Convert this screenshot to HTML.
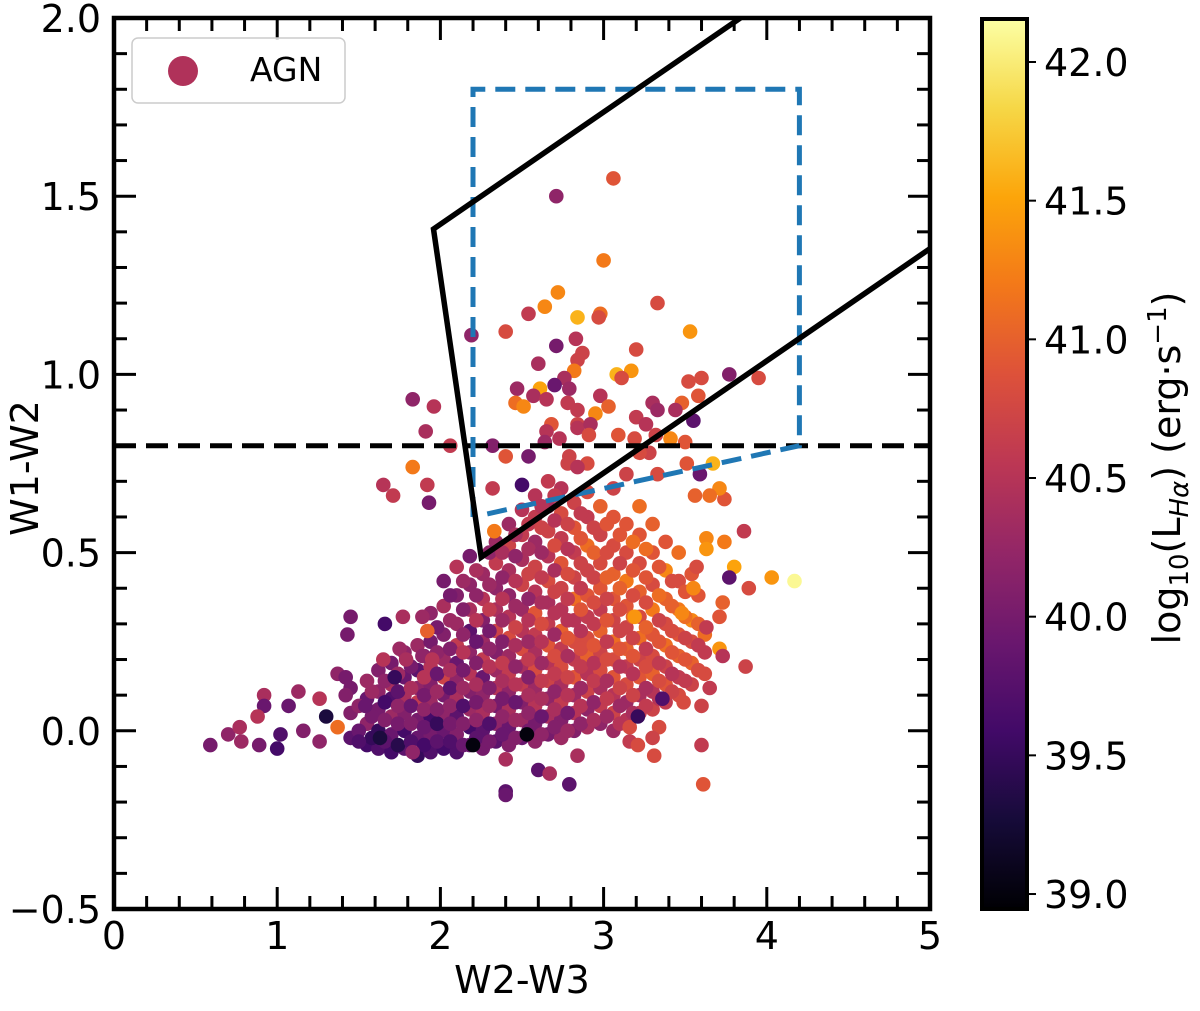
<!DOCTYPE html>
<html><head><meta charset="utf-8"><style>
body{margin:0;background:#fff;}
svg text{font-family:"DejaVu Sans","Liberation Sans",sans-serif;fill:#000;}
</style></head><body>
<svg id="chart" xmlns="http://www.w3.org/2000/svg" width="1200" height="1006" viewBox="0 0 1200 1006">
<defs>
<linearGradient id="inferno" x1="0" y1="1" x2="0" y2="0">
<stop offset="0" stop-color="#000004"/><stop offset="0.1" stop-color="#160b39"/><stop offset="0.2" stop-color="#420a68"/><stop offset="0.3" stop-color="#6a176e"/><stop offset="0.4" stop-color="#932667"/><stop offset="0.5" stop-color="#bc3754"/><stop offset="0.6" stop-color="#dd513a"/><stop offset="0.7" stop-color="#f37819"/><stop offset="0.8" stop-color="#fca50a"/><stop offset="0.9" stop-color="#f6d746"/><stop offset="1" stop-color="#fcffa4"/>
</linearGradient>
<clipPath id="plotclip"><rect x="114" y="18" width="816" height="891"/></clipPath>
</defs>
<g id="points" clip-path="url(#plotclip)"></g>
<g id="lines" clip-path="url(#plotclip)"></g>
<g id="axes"></g>
<g>
<rect x="132" y="38" width="213" height="65" rx="6" fill="#fff" fill-opacity="0.85" stroke="#ccc" stroke-width="1.5"/>
<circle cx="183" cy="71" r="15" fill="#b0325a"/>
<text x="250" y="81" font-size="33">AGN</text>
</g>
<rect x="982" y="19" width="45" height="890" fill="url(#inferno)" stroke="#000" stroke-width="4"/>
<g id="cbticks"></g>
<text x="522" y="993" font-size="38" text-anchor="middle">W2-W3</text>
<text transform="translate(38,468) rotate(-90)" font-size="38" text-anchor="middle">W1-W2</text>
<text transform="translate(1180,468) rotate(-90)" font-size="38" text-anchor="middle">log<tspan font-size="26" dy="8">10</tspan><tspan dy="-8">(L</tspan><tspan font-size="26" dy="8" font-style="italic">Hα</tspan><tspan dy="-8">) (erg·s</tspan><tspan font-size="26" dy="-14">−1</tspan><tspan dy="14">)</tspan></text>
</svg>
<script>
// scattered points (x = W2-W3, y = W1-W2, c = log10 LHa)
const sx=[0.59,0.70,0.77,0.78,0.89,0.92,0.92,0.88,1.00,1.02,1.07,1.13,1.16,1.26,1.30,1.26,1.37,1.37,1.42,1.42,1.43,1.45,1.50,1.54,1.63,1.65,1.66,1.72,1.77,1.75,1.79,1.89,1.89,1.92,1.95,1.65,1.71,1.92,1.93,2.33,2.32,2.50,2.40,2.20,2.40,1.83,
3.06,2.71,3.00,2.72,2.64,2.54,2.84,2.98,2.97,3.33,3.53,2.40,2.19,2.83,2.71,2.87,2.84,2.60,3.20,2.82,2.76,3.08,3.17,3.11,2.47,2.70,2.79,2.61,2.57,2.46,2.51,2.65,3.77,3.95,3.60,3.52,3.58,3.48,3.44,3.30,3.33,2.98,3.03,2.78,2.84,2.95,3.20,3.26,3.55,1.83,1.96,1.91,2.06,1.83,2.32,2.40,2.54,2.68,2.65,2.84,2.84,2.92,2.73,2.64,2.91,3.09,3.19,3.32,3.41,3.50,3.28,3.22,3.51,3.67,3.59,2.79,2.78,2.90,2.84,3.33,3.14,
4.17,4.03,3.89,3.80,3.77,3.86,3.74,3.63,3.63,3.74,3.71,3.65,3.56,3.73,3.71,3.63,3.71,3.73,3.87,3.65,3.60,3.49,3.60,3.61,3.34,3.30,3.31,3.16,3.16,3.21,3.21,2.84,2.60,2.67,2.79,2.40,2.53,3.36,3.58,3.55,3.48,3.19,3.57];
const sy=[-0.04,-0.01,0.01,-0.03,-0.04,0.10,0.07,0.04,-0.05,-0.01,0.07,0.11,0.00,0.09,0.04,-0.03,0.01,0.16,0.15,0.10,0.27,0.32,-0.03,0.07,-0.02,0.20,0.30,0.15,0.32,0.23,0.20,0.32,0.21,0.28,0.20,0.69,0.66,0.69,0.64,0.56,0.68,0.69,-0.17,-0.04,-0.08,-0.06,
1.55,1.50,1.32,1.23,1.19,1.17,1.16,1.17,1.16,1.20,1.12,1.12,1.11,1.10,1.08,1.06,1.04,1.03,1.07,1.01,0.99,1.00,1.01,0.99,0.96,0.97,0.96,0.96,0.94,0.92,0.91,0.93,1.00,0.99,0.99,0.98,0.94,0.92,0.90,0.92,0.90,0.94,0.91,0.92,0.90,0.89,0.88,0.86,0.87,0.93,0.91,0.84,0.80,0.74,0.80,0.77,0.77,0.86,0.84,0.86,0.85,0.86,0.82,0.81,0.83,0.83,0.82,0.83,0.82,0.81,0.78,0.78,0.75,0.75,0.72,0.77,0.75,0.75,0.74,0.72,0.72,
0.42,0.43,0.40,0.46,0.43,0.56,0.53,0.54,0.51,0.65,0.68,0.66,0.66,0.36,0.32,0.29,0.23,0.21,0.18,0.12,0.07,0.08,-0.04,-0.15,0.01,-0.02,-0.07,0.01,-0.03,-0.04,0.04,-0.07,-0.11,-0.12,-0.15,-0.18,-0.01,0.09,0.38,0.40,0.33,0.32,0.46];
const sc=[40.0,40.2,40.4,40.3,40.0,40.4,39.9,40.5,39.6,39.7,39.9,40.3,40.1,40.5,39.3,40.2,41.1,40.2,40.0,40.1,40.0,40.0,39.7,39.9,39.3,40.5,39.6,39.5,40.4,40.3,40.4,40.3,40.2,41.0,40.5,40.5,40.6,40.6,40.0,41.2,40.6,39.6,39.8,39.0,40.4,40.2,
40.9,40.2,41.2,41.3,41.3,40.6,41.6,41.1,40.8,40.8,41.4,40.8,40.2,40.5,40.0,40.7,40.7,40.4,40.8,41.2,40.4,41.6,41.4,40.8,40.3,39.9,40.3,41.5,40.4,41.1,41.3,40.5,40.1,40.8,40.8,40.8,40.9,41.0,40.4,40.4,40.3,40.5,41.0,40.6,40.6,41.3,40.6,40.5,39.8,40.2,40.5,40.4,40.6,41.2,40.1,40.9,40.0,40.9,40.5,40.7,40.5,40.4,40.5,40.3,40.8,40.9,40.8,40.7,41.3,40.9,40.7,40.8,40.9,41.6,39.9,40.7,40.7,40.8,40.5,40.8,40.7,
42.1,41.4,40.8,41.5,39.8,40.6,41.2,41.3,41.4,40.9,41.3,41.1,41.0,41.0,40.9,40.6,41.4,40.5,40.7,40.6,40.7,40.8,40.6,40.9,40.8,40.7,40.8,40.8,40.6,40.8,39.5,40.4,39.8,40.4,39.8,39.9,39.0,39.7,40.9,41.3,41.3,41.4,40.8];
// dense core: column x values, y values per column, colour values per column
const colX=[1.45,1.55,1.62,1.70,1.78,1.86,1.94,2.02,2.10,2.18,2.26,2.34,2.42,2.50,2.58,2.66,2.74,2.82,2.90,2.98,3.06,3.14,3.22,3.30,3.38,3.46,3.54,3.62];
const colY=[
[-0.02,0.05,0.12],
[-0.04,0.02,0.09,0.14],
[-0.05,0.0,0.06,0.11,0.17],
[-0.06,-0.01,0.04,0.09,0.13,0.19],
[-0.05,0.0,0.05,0.10,0.15,0.22],
[-0.07,-0.02,0.03,0.08,0.12,0.17,0.24],
[-0.06,-0.01,0.04,0.08,0.13,0.18,0.25,0.33],
[-0.05,0.0,0.05,0.10,0.15,0.20,0.27,0.35,0.42],
[-0.06,-0.01,0.04,0.09,0.14,0.19,0.24,0.30,0.38,0.46],
[-0.04,0.01,0.06,0.11,0.16,0.22,0.28,0.34,0.41,0.49],
[-0.05,0.0,0.05,0.10,0.15,0.20,0.25,0.31,0.37,0.44],
[-0.03,0.02,0.07,0.12,0.17,0.22,0.28,0.34,0.40,0.47,0.53],
[-0.04,0.01,0.06,0.11,0.16,0.21,0.26,0.32,0.38,0.45,0.52,0.58],
[-0.02,0.03,0.08,0.13,0.18,0.23,0.28,0.34,0.41,0.48,0.55,0.62],
[-0.03,0.02,0.07,0.12,0.17,0.22,0.27,0.33,0.39,0.46,0.53,0.60,0.66],
[-0.01,0.04,0.09,0.14,0.19,0.24,0.30,0.36,0.42,0.49,0.56,0.63,0.70],
[-0.02,0.03,0.08,0.13,0.18,0.23,0.28,0.34,0.40,0.47,0.54,0.61,0.68],
[0.0,0.05,0.10,0.15,0.20,0.25,0.31,0.37,0.43,0.50,0.57,0.64],
[0.01,0.06,0.11,0.16,0.21,0.26,0.32,0.38,0.45,0.52,0.60,0.67],
[0.02,0.07,0.12,0.17,0.22,0.28,0.34,0.40,0.47,0.55,0.63],
[0.0,0.05,0.10,0.15,0.20,0.25,0.31,0.37,0.44,0.52,0.60,0.68],
[0.03,0.08,0.13,0.18,0.23,0.29,0.35,0.42,0.50,0.58],
[0.05,0.10,0.15,0.20,0.26,0.32,0.39,0.47,0.55,0.63],
[0.06,0.11,0.16,0.21,0.27,0.34,0.41,0.50,0.58],
[0.08,0.13,0.18,0.24,0.30,0.37,0.45,0.53],
[0.10,0.15,0.21,0.27,0.34,0.42,0.50],
[0.13,0.19,0.25,0.31,0.44],
[0.16,0.22,0.27]];
const colC=[
[39.8,40.1,40.0],
[39.6,40.2,39.9,40.3],
[39.7,39.5,40.0,40.2,40.1],
[39.6,39.9,40.3,39.7,40.4,40.0],
[39.8,39.6,40.1,40.4,39.9,40.2],
[39.5,39.9,40.0,40.6,40.2,39.8,40.3],
[39.7,40.0,39.6,40.3,40.1,40.5,40.0,40.2],
[39.6,39.9,40.2,40.0,40.7,40.3,40.1,40.4,40.0],
[39.7,40.1,39.8,40.4,40.2,39.9,40.6,40.3,40.1,40.5],
[39.9,39.6,40.3,40.1,40.5,40.2,39.8,40.4,40.2,40.0],
[40.0,39.8,40.4,40.2,39.9,40.6,40.3,40.1,40.5,40.3],
[39.8,40.2,40.0,40.5,40.3,40.1,40.7,40.4,40.2,40.6,40.3],
[40.1,39.9,40.4,40.2,40.6,40.3,40.8,40.5,40.2,40.4,40.7,40.3],
[39.9,40.3,40.1,40.6,40.4,40.8,40.5,40.3,40.7,40.4,40.6,40.5],
[40.2,40.0,40.5,40.3,40.8,40.4,40.6,40.9,40.5,40.7,40.3,40.6,40.5],
[40.0,40.4,40.2,40.7,40.5,40.9,40.6,40.4,40.8,40.5,40.7,40.4,40.6],
[40.3,40.1,40.6,40.4,40.8,40.6,41.0,40.5,40.7,40.9,40.6,40.8,40.5],
[40.1,40.5,40.3,40.9,40.6,40.8,40.5,41.1,40.7,40.6,40.9,40.7],
[40.4,40.2,40.7,40.5,41.0,40.8,40.6,40.9,40.7,41.1,40.6,40.8],
[40.2,40.6,40.4,40.8,40.7,41.0,40.6,40.9,40.8,40.7,41.0],
[40.3,40.7,40.5,40.9,40.8,41.1,40.7,40.9,41.0,40.8,40.9,40.7],
[40.5,40.3,40.8,40.6,41.0,40.7,40.9,41.2,40.8,40.9],
[40.6,40.4,40.9,40.7,41.1,40.8,41.0,40.8,40.9,41.1],
[40.7,40.5,41.0,40.8,40.9,41.2,40.8,40.9,41.0],
[40.6,40.9,40.7,41.1,40.8,41.0,41.3,40.9],
[40.8,40.6,41.0,40.9,41.2,40.8,41.1],
[40.7,41.0,40.8,41.3,40.9],
[40.8,40.6,41.1]];
// staggered core columns (fill between the first set)
const col2X=[1.50,1.58,1.66,1.74,1.82,1.90,1.98,2.06,2.14,2.22,2.30,2.38,2.46,2.54,2.62,2.70,2.78,2.86,2.94,3.02,3.10,3.18,3.26,3.34,3.42,3.50,3.58];
const col2Y=[
[0.0,0.07],
[-0.02,0.04,0.11],
[-0.03,0.03,0.08,0.14],
[-0.04,0.02,0.07,0.11,0.16],
[-0.03,0.02,0.07,0.12,0.18],
[-0.04,0.01,0.06,0.10,0.15,0.21],
[-0.03,0.02,0.06,0.11,0.16,0.22,0.29],
[-0.03,0.02,0.07,0.12,0.17,0.23,0.31,0.38],
[-0.04,0.02,0.07,0.12,0.17,0.22,0.27,0.34,0.42],
[-0.02,0.03,0.08,0.13,0.19,0.25,0.31,0.38,0.45],
[-0.03,0.02,0.07,0.12,0.18,0.23,0.28,0.34,0.41,0.50],
[-0.01,0.04,0.09,0.14,0.19,0.25,0.31,0.37,0.43,0.50],
[-0.02,0.03,0.08,0.13,0.18,0.24,0.29,0.35,0.42,0.49,0.55],
[0.0,0.05,0.10,0.15,0.20,0.25,0.31,0.37,0.44,0.51,0.58],
[-0.01,0.04,0.09,0.14,0.19,0.25,0.30,0.36,0.43,0.50,0.57,0.63],
[0.01,0.06,0.11,0.16,0.21,0.27,0.33,0.39,0.45,0.52,0.59,0.66],
[0.0,0.05,0.10,0.15,0.21,0.26,0.31,0.37,0.44,0.51,0.58],
[0.02,0.07,0.12,0.18,0.23,0.28,0.34,0.40,0.47,0.54,0.61],
[0.03,0.08,0.14,0.19,0.24,0.30,0.36,0.43,0.50,0.57],
[0.04,0.09,0.14,0.20,0.25,0.31,0.37,0.43,0.50,0.58],
[0.02,0.07,0.12,0.18,0.23,0.28,0.34,0.40,0.47,0.55],
[0.05,0.10,0.16,0.21,0.26,0.32,0.38,0.45,0.53],
[0.07,0.12,0.18,0.23,0.29,0.36,0.43,0.51],
[0.09,0.14,0.19,0.25,0.31,0.38,0.46],
[0.11,0.16,0.22,0.28,0.35,0.42],
[0.14,0.20,0.26,0.32,0.39],
[0.17,0.24,0.30]];
const col2C=[
[39.9,40.2],
[39.5,40.0,40.3],
[39.8,40.1,39.6,40.2],
[39.4,40.0,40.2,39.8,40.3],
[39.7,40.1,39.9,40.4,40.0],
[39.6,39.9,40.2,40.0,40.5,40.1],
[39.8,39.5,40.1,40.3,39.9,40.2,40.0],
[39.7,40.0,40.2,39.8,40.4,40.1,40.3,40.0],
[39.9,40.1,39.7,40.3,40.0,40.5,40.2,40.1,40.3],
[39.8,40.2,40.0,40.4,40.1,39.9,40.5,40.2,40.4],
[40.0,39.7,40.3,40.1,40.5,40.2,40.0,40.6,40.3,40.2],
[39.9,40.2,40.0,40.4,40.6,40.1,40.3,40.5,40.2,40.4],
[40.1,40.3,39.9,40.5,40.2,40.4,40.7,40.3,40.5,40.2,40.4],
[40.0,40.2,40.4,40.1,40.6,40.3,40.5,40.2,40.7,40.4,40.6],
[40.2,39.9,40.4,40.6,40.3,40.5,40.8,40.4,40.6,40.3,40.7,40.5],
[40.1,40.4,40.2,40.6,40.8,40.3,40.5,40.7,40.4,40.8,40.5,40.6],
[40.3,40.0,40.5,40.7,40.4,40.9,40.5,40.6,40.8,40.5,40.7],
[40.2,40.5,40.3,40.6,40.8,40.5,40.9,40.6,40.7,40.9,40.6],
[40.4,40.2,40.6,40.5,40.9,40.6,40.8,40.7,41.0,40.7],
[40.3,40.6,40.4,40.8,40.6,40.9,40.7,41.0,40.8,40.9],
[40.5,40.3,40.7,40.5,40.9,40.7,40.8,41.0,40.7,40.9],
[40.4,40.7,40.5,40.9,40.7,41.0,40.8,40.9,41.1],
[40.6,40.4,40.8,40.6,41.0,40.8,40.9,41.1],
[40.5,40.8,40.6,40.9,40.7,41.1,40.9],
[40.7,40.5,40.9,40.8,41.0,40.8],
[40.6,40.9,40.7,41.1,40.9],
[40.8,40.6,41.0]];
const xTicks=[0,1,2,3,4,5];
const yTicks=[-0.5,0.0,0.5,1.0,1.5,2.0];
const yTickLabels=["−0.5","0.0","0.5","1.0","1.5","2.0"];
const cTicks=[39.0,39.5,40.0,40.5,41.0,41.5,42.0];
const mateosWedge=[[5.0,1.353],[2.250,0.487],[1.958,1.408],[3.838,2.0]];
const jarrettBox=[[2.2,0.60],[2.2,1.8],[4.2,1.8],[4.2,0.80],[2.2,0.60]];
const sternCut=[[0,0.8],[5,0.8]];

const X0=114,X1=930,Y0=909,Y1=18,XMIN=0,XMAX=5,YMIN=-0.5,YMAX=2.0,CMIN=38.946,CMAX=42.155;
const CB_TOP=19,CB_BOT=909;
function xs(v){return X0+(v-XMIN)/(XMAX-XMIN)*(X1-X0);}
function ys(v){return Y0-(v-YMIN)/(YMAX-YMIN)*(Y0-Y1);}
function cbY(v){return CB_BOT-(v-CMIN)/(CMAX-CMIN)*(CB_BOT-CB_TOP);}
const stops=[[0,0,4],[22,11,57],[66,10,104],[106,23,110],[147,38,103],[188,55,84],[221,81,58],[243,120,25],[252,165,10],[246,215,70],[252,255,164]];
function cmap(v){let t=Math.max(0,Math.min(1,(v-CMIN)/(CMAX-CMIN)))*10;let i=Math.min(9,Math.floor(t)),f=t-i;const a=stops[i],b=stops[i+1];return `rgb(${Math.round(a[0]+(b[0]-a[0])*f)},${Math.round(a[1]+(b[1]-a[1])*f)},${Math.round(a[2]+(b[2]-a[2])*f)})`;}
const NS="http://www.w3.org/2000/svg";
function mk(tag,attrs,parent){const e=document.createElementNS(NS,tag);for(const k in attrs)e.setAttribute(k,attrs[k]);parent.appendChild(e);return e;}
const pg=document.getElementById('points');
const all=[];
colX.forEach((x,i)=>colY[i].forEach((y,j)=>all.push([x,y,colC[i][j]])));
col2X.forEach((x,i)=>col2Y[i].forEach((y,j)=>all.push([x,y,col2C[i][j]])));
sx.forEach((x,i)=>all.push([x,sy[i],sc[i]]));
all.forEach(p=>{const c=mk('circle',{cx:xs(p[0]).toFixed(1),cy:ys(p[1]).toFixed(1),r:7.3,fill:cmap(p[2])},pg);

});
const lg=document.getElementById('lines');
function poly(pts,attrs,name){const e=mk('polyline',Object.assign({points:pts.map(p=>xs(p[0]).toFixed(1)+','+ys(p[1]).toFixed(1)).join(' '),fill:'none'},attrs),lg);

}
poly(sternCut,{stroke:'#000','stroke-width':5,'stroke-dasharray':'22,10'},'stern-cut-line');
poly(jarrettBox,{stroke:'#1f77b4','stroke-width':5,'stroke-dasharray':'20,10'},'jarrett-box');
poly(mateosWedge,{stroke:'#000','stroke-width':5.5,'stroke-linejoin':'miter'},'mateos-wedge');
const ag=document.getElementById('axes');
function ln(x1,y1,x2,y2,w,name){const e=mk('line',{x1,y1,x2,y2,stroke:'#000','stroke-width':w},ag);

}
for(let k=0;k<=25;k++){const v=k*0.2,x=xs(v),maj=k%5===0,L=maj?22:13;
ln(x,Y0,x,Y0-L,3,'x-tick');ln(x,Y1,x,Y1+L,3,'x-tick-top');}
for(let k=0;k<=25;k++){const v=-0.5+k*0.1,y=ys(v),maj=k%5===0,L=maj?22:13;
ln(X0,y,X0+L,y,3,'y-tick');ln(X1,y,X1-L,y,3,'y-tick-right');}
const fr=mk('rect',{x:X0,y:Y1,width:X1-X0,height:Y0-Y1,fill:'none',stroke:'#000','stroke-width':4.5},ag);


xTicks.forEach(v=>{const t=mk('text',{x:xs(v),y:949,'font-size':38,'text-anchor':'middle'},ag);t.textContent=String(v);

});
yTicks.forEach((v,i)=>{const t=mk('text',{x:101,y:ys(v)+14,'font-size':38,'text-anchor':'end'},ag);t.textContent=yTickLabels[i];

});
const cg=document.getElementById('cbticks');
cTicks.forEach(v=>{const y=cbY(v);mk('line',{x1:1027,y1:y,x2:1036,y2:y,stroke:'#000','stroke-width':2},cg);
const t=mk('text',{x:1044,y:y+14,'font-size':38},cg);t.textContent=v.toFixed(1);

});
</script>
</body></html>
